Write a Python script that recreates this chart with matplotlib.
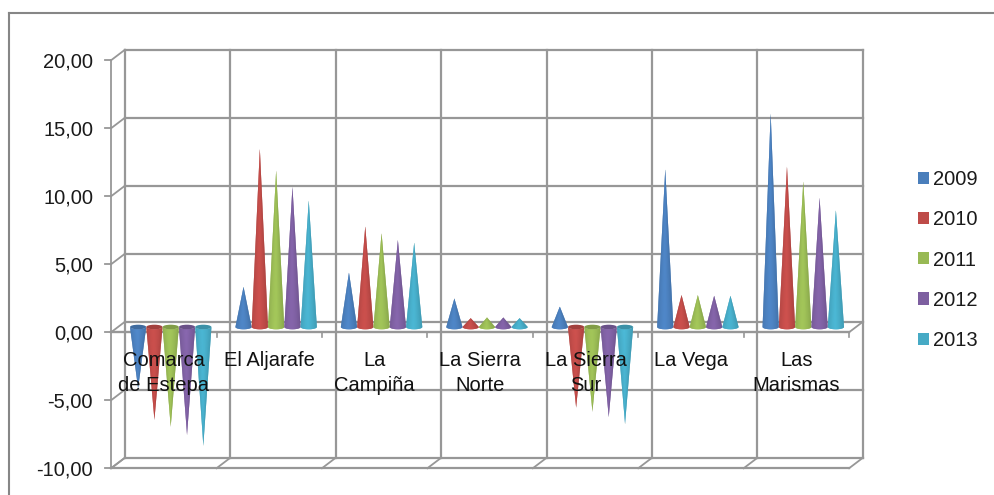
import numpy as np
import matplotlib
matplotlib.use('Agg')
import matplotlib.pyplot as plt
from matplotlib.colors import to_rgb
from matplotlib.lines import Line2D
from matplotlib.patches import Ellipse, Patch, Polygon

plt.rcParams['font.family'] = ['Liberation Sans', 'DejaVu Sans']

years = ['2009', '2010', '2011', '2012', '2013']
colors = ['#4a7ebb', '#be4b48', '#98b954', '#7d5fa0', '#46aac5']
categories = ['Comarca\nde Estepa', 'El Aljarafe', 'La\nCampiña', 'La Sierra\nNorte',
              'La Sierra\nSur', 'La Vega', 'Las\nMarismas']
v2009 = [-4.5, 2.95, 4.0, 2.1, 1.5, 11.6, 15.7]
v2010 = [-6.8, 13.1, 7.4, 0.65, -5.9, 2.35, 11.8]
v2011 = [-7.3, 11.5, 6.9, 0.7, -6.2, 2.35, 10.7]
v2012 = [-7.9, 10.3, 6.4, 0.7, -6.6, 2.3, 9.5]
v2013 = [-8.7, 9.3, 6.2, 0.65, -7.1, 2.3, 8.6]
series = [v2009, v2010, v2011, v2012, v2013]
yticks = [20, 15, 10, 5, 0, -5, -10]

GRID = '#979797'
W, H = 995, 495

fig = plt.figure(figsize=(W / 100, H / 100), dpi=100)
# axes sit at the middle of the 3d depth, walls are shifted from there
ax = fig.add_axes([118 / W, 1 - 463 / H, 738 / W, 408 / H])
ax.set_xlim(0, 7)
ax.set_ylim(-10, 20)
ax.axis('off')

dx = 6.9 / 105.4   # depth shift in category units
dy = 5.25 / 13.6   # depth shift in value units


def line(xs, ys, lw=1.6, z=1):
    ax.plot(xs, ys, color=GRID, lw=lw, zorder=z, clip_on=False, solid_capstyle='projecting')


# back wall
for v in yticks:
    line([dx, 7 + dx], [v + dy, v + dy])
    line([-dx, dx], [v - dy, v + dy], lw=1.3)
    ax.annotate(f'{v:.2f}'.replace('.', ','), xy=(-dx, v - dy), xytext=(-18, -2),
                textcoords='offset pixels', ha='right', va='center', fontsize=14.5, color='#1a1a1a',
                annotation_clip=False)
    line([-dx - 6 / 105.4, -dx], [v - dy, v - dy], lw=1.3)
for i in range(8):
    line([i + dx, i + dx], [-10 + dy, 20 + dy])
line([-dx, -dx], [-10 - dy, 20 - dy], lw=1.3)

# floor at the bottom and the zero plane
line([-dx, 7 - dx], [-10 - dy, -10 - dy])
for i in range(8):
    line([i - dx, i + dx], [-10 - dy, -10 + dy], lw=1.3)
line([-dx, 7 - dx], [-dy, -dy], lw=1.7, z=1.5)
line([7 - dx, 7 + dx], [-dy, dy], lw=1.3, z=1.5)
for i in range(1, 8):
    line([i - dx, i - dx], [-dy, -dy - 5 / 13.6], lw=1.2)

# cones, built from thin facets around the front half of the base
rx = 8.1 / 105.4
ry = 2.3 / 13.6
step = 16.3 / 105.4
theta = np.linspace(np.pi, 2 * np.pi, 25)
for j, vals in enumerate(series):
    base = np.array(to_rgb(colors[j]))
    for i, v in enumerate(vals):
        cx = i + 0.5 + (j - 2) * step
        z = 3 + j * 0.1
        # solid body first so the facets leave no seams
        body = [(cx + rx * np.cos(a), ry * np.sin(a)) for a in theta] + [(cx, v)]
        ax.add_patch(Polygon(body, closed=True, facecolor=base, edgecolor='none', zorder=z))
        for a, b in zip(theta[:-1], theta[1:]):
            t = np.cos((a + b) / 2)
            shade = 1.09 - 0.17 * abs(t + 0.1) ** 1.5
            c = np.clip(base * shade, 0, 1)
            pts = [(cx + rx * np.cos(a), ry * np.sin(a)), (cx + rx * np.cos(b), ry * np.sin(b)), (cx, v)]
            ax.add_patch(Polygon(pts, closed=True, facecolor=c, edgecolor='none', lw=0, zorder=z + 0.01))
        if v < 0:
            ax.add_patch(Ellipse((cx, 0), 2 * rx, 2 * ry, facecolor=base * 0.85, edgecolor='none',
                                 zorder=z + 0.05))

# category labels stay on top of the cones
for i, name in enumerate(categories):
    ax.annotate(name, xy=(i + 0.5 - dx, -dy), xytext=(0, -19), textcoords='offset pixels',
                ha='center', va='top', fontsize=14.5, color='#111111', linespacing=1.36, zorder=6,
                multialignment='center')

handles = [Patch(facecolor=c, edgecolor='none') for c in colors]
fig.legend(handles, years, loc='center left', bbox_to_anchor=(918 / W, 1 - 260 / H), frameon=False,
           fontsize=14.5, labelcolor='#1a1a1a', handlelength=0.55, handleheight=0.55,
           handletextpad=0.2, labelspacing=1.05, borderpad=0, borderaxespad=0)

# chart area frame, only top and left show
fig.add_artist(Line2D([9 / W, 9 / W], [0, 1 - 13 / H], color='#868686', lw=1.5))
fig.add_artist(Line2D([9 / W, 1], [1 - 13 / H, 1 - 13 / H], color='#868686', lw=1.5))

fig.savefig('out.png', dpi=100)
